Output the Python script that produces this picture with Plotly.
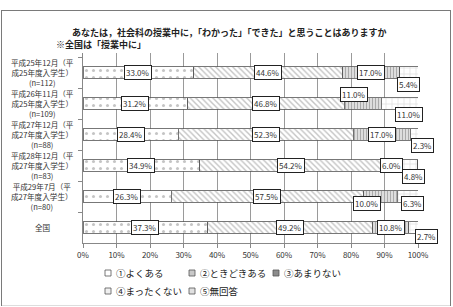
import plotly.graph_objects as go

categories = [
    "平成25年12月（平<br>成25年度入学生）<br>(n=112)",
    "平成26年11月（平<br>成25年度入学生）<br>(n=109)",
    "平成27年12月（平<br>成27年度入学生）<br>(n=88)",
    "平成28年12月（平<br>成27年度入学生）<br>(n=83)",
    "平成29年7月（平<br>成27年度入学生）<br>(n=80)",
    "全国",
]
series_names = ["①よくある", "②ときどきある", "③あまりない", "④まったくない", "⑤無回答"]
s1 = [33.0, 31.2, 28.4, 34.9, 26.3, 37.3]
s2 = [44.6, 46.8, 52.3, 54.2, 57.5, 49.2]
s3 = [17.0, 11.0, 17.0, 6.0, 10.0, 10.8]
s4 = [5.4, 11.0, 2.3, 4.8, 6.3, 2.7]
s5 = [0.0, 0.0, 0.0, 0.0, 0.0, 0.0]
series = [s1, s2, s3, s4, s5]
x_ticks = [0, 10, 20, 30, 40, 50, 60, 70, 80, 90, 100]

FONT = "Noto Sans CJK JP"
W, H = 453, 307
# paper (frame) area in pixels
PL, PR, PT, PB = 1, 451, 10, 306
# plot area in pixels
L, R, T, B = 83, 418, 53, 243


def px(x):
    return (x - PL) / (PR - PL)


def py(y):
    return (PB - y) / (PB - PT)


patterns = [
    dict(shape=".", fgcolor="#8a8a8a", bgcolor="white", size=7, solidity=0.15),
    dict(shape="\\", fgcolor="#8a8a8a", bgcolor="white", size=4, solidity=0.35),
    dict(shape="|", fgcolor="#555555", bgcolor="white", size=3, solidity=0.6),
    dict(shape="+", fgcolor="#9a9a9a", bgcolor="white", size=6, solidity=0.15),
    dict(shape="-", fgcolor="#777777", bgcolor="white", size=3, solidity=0.3),
]
legend_fill = ["#ffffff", "#c8c8c8", "#8c8c8c", "#f0f0f0", "#e0e0e0"]

fig = go.Figure()

# outer frame: filled gray rect with white inset (drawn below everything)
fig.add_shape(type="rect", xref="paper", yref="paper",
              x0=0, x1=1, y0=0, y1=1, line=dict(width=0),
              fillcolor="#7a7a7a", layer="below")
fig.add_shape(type="rect", xref="paper", yref="paper",
              x0=px(PL + 1), x1=px(PR - 1), y0=py(PB - 0.2), y1=py(PT + 1),
              line=dict(width=0), fillcolor="#ffffff", layer="below")

for name, vals, pat in zip(series_names, series, patterns):
    fig.add_trace(go.Bar(
        y=categories, x=vals, name=name, orientation="h",
        marker=dict(color="white", pattern=pat, line=dict(color="#555555", width=0.8)),
        width=0.38, showlegend=False,
    ))

# label offsets (style): (series index, row index) -> (xshift, yshift)
offsets = {
    (3, 0): (0, -12),
    (2, 1): (-9, 9),
    (3, 1): (9, -11),
    (3, 2): (8, -11),
    (3, 3): (4, -11),
    (2, 4): (-13, -7),
    (3, 4): (5, -7),
    (3, 5): (13, -9),
}
for si, vals in enumerate(series):
    for ri, v in enumerate(vals):
        if v <= 0:
            continue
        start = sum(series[k][ri] for k in range(si))
        xs, ys = offsets.get((si, ri), (0, 0))
        fig.add_annotation(
            x=start + v / 2, y=categories[ri], text=f"{v:.1f}%",
            showarrow=False, xshift=xs, yshift=ys,
            font=dict(size=8, color="#333333", family=FONT),
            bgcolor="white", bordercolor="#222222", borderwidth=1, borderpad=1,
        )

# category labels (centered, multi-line)
for c in categories:
    fig.add_annotation(
        xref="paper", y=c, x=px(42), text=c, showarrow=False,
        xanchor="center", yanchor="middle", align="center",
        font=dict(size=7.6, color="#333333", family=FONT),
    )

# custom legend
for i, name in enumerate(series_names):
    row, col = divmod(i, 3)
    ix = 108 + 84 * col
    iy = 273 + 18 * row
    fig.add_shape(type="rect", xref="paper", yref="paper",
                  x0=px(ix - 3), x1=px(ix + 3), y0=py(iy + 3), y1=py(iy - 3),
                  line=dict(color="#555555", width=0.8), fillcolor=legend_fill[i])
    fig.add_annotation(xref="paper", yref="paper", x=px(ix + 6), y=py(iy),
                       text=name, showarrow=False, xanchor="left", yanchor="middle",
                       font=dict(size=9.5, color="#222222", family=FONT))

# title lines
fig.add_annotation(xref="paper", yref="paper", x=px(229), y=py(32),
                   text="<b>あなたは，社会科の授業中に，「わかった」「できた」と思うことはありますか</b>",
                   showarrow=False, xanchor="center", yanchor="middle",
                   font=dict(size=9, color="#222222", family=FONT))
fig.add_annotation(xref="paper", yref="paper", x=px(54), y=py(45),
                   text="<b>※全国は「授業中に」</b>",
                   showarrow=False, xanchor="left", yanchor="middle",
                   font=dict(size=9, color="#222222", family=FONT))

fig.update_layout(
    width=W, height=H,
    margin=dict(l=PL, r=W - PR, t=PT, b=H - PB, pad=0, autoexpand=False),
    barmode="stack",
    paper_bgcolor="white", plot_bgcolor="white",
    font=dict(family=FONT, color="#333333"),
    showlegend=False,
    xaxis=dict(domain=[px(L), px(R)], range=[0, 100], tickvals=x_ticks,
               ticktext=[f"{t}%" for t in x_ticks],
               showgrid=True, gridcolor="#9a9a9a", gridwidth=1,
               showline=True, linecolor="#888888", ticks="outside", ticklen=4,
               tickcolor="#888888", tickfont=dict(size=8, color="#333333"),
               zeroline=False, fixedrange=True),
    yaxis=dict(domain=[py(B), py(T)], autorange="reversed", showgrid=False,
               showline=True, linecolor="#888888",
               ticks="outside", ticklen=4, tickcolor="#888888", tickson="boundaries",
               showticklabels=False, fixedrange=True),
    bargap=0.62,
)

fig.write_html("out.html")
